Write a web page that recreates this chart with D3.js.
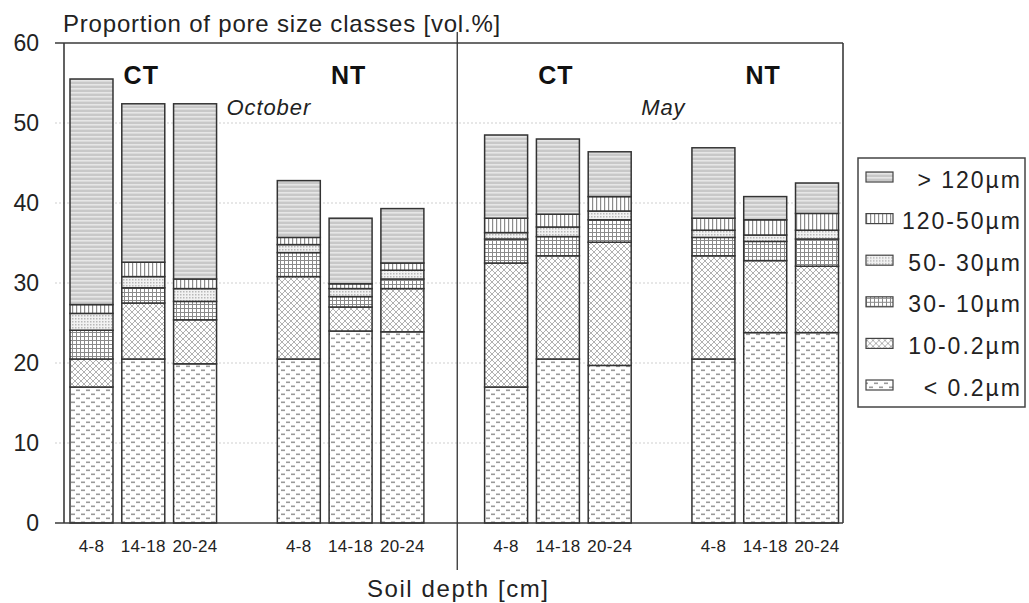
<!DOCTYPE html>
<html>
<head>
<meta charset="utf-8">
<script src="https://cdn.jsdelivr.net/npm/d3@7"></script>
<style>
  body { margin: 0; background: #fff; }
  svg { display: block; font-family: "Liberation Sans", Arial, Helvetica, sans-serif; }
</style>
</head>
<body>
<svg id="chart" width="1029" height="603"></svg>
<script>
// Treatment groups (tillage system) and sampling season
const tillage = ["CT", "NT", "CT", "NT"];
const seasons = ["October", "May"];
const depths = ["4-8", "14-18", "20-24"];
const yTicks = [0, 10, 20, 30, 40, 50, 60];

// Pore size classes, bottom of the stack first
const classes = ["< 0.2µm", "10-0.2µm", "30- 10µm", "50- 30µm", "120-50µm", "> 120µm"];

// vol.% per class; order: CT-Oct (4-8,14-18,20-24), NT-Oct, CT-May, NT-May
const poreLt02   = [17.0, 20.5, 19.9, 20.5, 24.0, 23.9, 17.0, 20.5, 19.7, 20.5, 23.8, 23.8];
const pore10_02  = [3.5, 7.0, 5.5, 10.3, 3.0, 5.4, 15.5, 12.9, 15.4, 12.9, 9.0, 8.3];
const pore30_10  = [3.6, 1.9, 2.3, 3.0, 1.3, 1.2, 3.0, 2.4, 2.8, 2.3, 2.4, 3.4];
const pore50_30  = [2.1, 1.4, 1.6, 1.0, 1.0, 1.1, 0.8, 1.2, 1.1, 0.9, 0.8, 1.1];
const pore120_50 = [1.1, 1.8, 1.2, 0.9, 0.6, 0.9, 1.8, 1.6, 1.8, 1.5, 1.9, 2.1];
const poreGt120  = [28.2, 19.8, 21.9, 7.1, 8.2, 6.8, 10.4, 9.4, 5.6, 8.8, 2.9, 3.8];

const classValues = [poreLt02, pore10_02, pore30_10, pore50_30, pore120_50, poreGt120];

const rows = d3.range(12).map(i => {
  const r = { group: Math.floor(i / 3), depth: depths[i % 3] };
  classes.forEach((c, k) => { r[c] = classValues[k][i]; });
  return r;
});

const svg = d3.select("#chart");
const plotLeft = 64, plotRight = 843, plotTop = 43, plotBottom = 523;

// ---------- fill patterns ----------
const defs = svg.append("defs");
const patIds = ["p-lt02", "p-10-02", "p-30-10", "p-50-30", "p-120-50", "p-gt120"];

// < 0.2 µm : staggered short dashes
let p = defs.append("pattern").attr("id", patIds[0]).attr("patternUnits", "userSpaceOnUse")
  .attr("width", 10).attr("height", 8);
p.append("rect").attr("width", 10).attr("height", 8).attr("fill", "#fff");
p.append("rect").attr("x", 1).attr("y", 1.5).attr("width", 4).attr("height", 1.6).attr("fill", "#9a9a9a");
p.append("rect").attr("x", 6).attr("y", 5.5).attr("width", 4).attr("height", 1.6).attr("fill", "#9a9a9a");

// 10-0.2 µm : diagonal lattice
p = defs.append("pattern").attr("id", patIds[1]).attr("patternUnits", "userSpaceOnUse")
  .attr("width", 6).attr("height", 6);
p.append("rect").attr("width", 6).attr("height", 6).attr("fill", "#fff");
p.append("path").attr("d", "M0,0L6,6M6,0L0,6").attr("stroke", "#a8a8a8").attr("stroke-width", 0.9);

// 30-10 µm : square grid
p = defs.append("pattern").attr("id", patIds[2]).attr("patternUnits", "userSpaceOnUse")
  .attr("width", 4).attr("height", 4);
p.append("rect").attr("width", 4).attr("height", 4).attr("fill", "#fff");
p.append("rect").attr("width", 4).attr("height", 1).attr("fill", "#8a8a8a");
p.append("rect").attr("width", 1).attr("height", 4).attr("fill", "#8a8a8a");

// 50-30 µm : fine dotted shading
p = defs.append("pattern").attr("id", patIds[3]).attr("patternUnits", "userSpaceOnUse")
  .attr("width", 3).attr("height", 3);
p.append("rect").attr("width", 3).attr("height", 3).attr("fill", "#f2f2f2");
p.append("rect").attr("width", 1.5).attr("height", 1.5).attr("fill", "#b8b8b8");

// 120-50 µm : vertical lines
p = defs.append("pattern").attr("id", patIds[4]).attr("patternUnits", "userSpaceOnUse")
  .attr("width", 4).attr("height", 4);
p.append("rect").attr("width", 4).attr("height", 4).attr("fill", "#fff");
p.append("rect").attr("width", 1.2).attr("height", 4).attr("fill", "#8c8c8c");

// > 120 µm : grey horizontal stripes
p = defs.append("pattern").attr("id", patIds[5]).attr("patternUnits", "userSpaceOnUse")
  .attr("width", 6).attr("height", 4);
p.append("rect").attr("width", 6).attr("height", 4).attr("fill", "#c8c8c8");
p.append("rect").attr("width", 6).attr("height", 1.6).attr("fill", "#e6e6e6");

// ---------- scales ----------
const y = d3.scaleLinear().domain([0, 60]).range([plotBottom, plotTop]);
const x0 = d3.scaleBand().domain(d3.range(4)).range([plotLeft + 6, plotRight - 4.5])
  .paddingInner(0.293).paddingOuter(0);
const x1 = d3.scaleBand().domain(depths).range([0, x0.bandwidth()]).paddingInner(0.17);

// ---------- grid lines ----------
svg.append("g").selectAll("line").data(yTicks.filter(t => t > 0 && t < 60)).join("line")
  .attr("x1", 55).attr("x2", plotRight)
  .attr("y1", d => y(d)).attr("y2", d => y(d))
  .attr("stroke", "#cfcfcf").attr("stroke-width", 1).attr("stroke-dasharray", "2,2");

// ---------- y axis labels ----------
const yAxis = d3.axisLeft(y).tickValues(yTicks).tickSize(0).tickPadding(16);
const gy = svg.append("g").attr("transform", `translate(55,0)`).call(yAxis);
gy.select(".domain").remove();
gy.selectAll("text").attr("font-size", 23).attr("fill", "#222")
  .attr("font-family", "'Liberation Sans', Arial, sans-serif");

// ---------- bars ----------
const stacked = d3.stack().keys(classes)(rows);
svg.append("g").selectAll("g").data(stacked).join("g")
  .attr("fill", (s, k) => `url(#${patIds[k]})`)
  .selectAll("rect").data(s => s).join("rect")
  .attr("x", d => x0(d.data.group) + x1(d.data.depth))
  .attr("width", x1.bandwidth())
  .attr("y", d => y(d[1]))
  .attr("height", d => y(d[0]) - y(d[1]))
  .attr("stroke", "#333").attr("stroke-width", 1.5);

// ---------- frame ----------
const frame = svg.append("g").attr("stroke", "#3a3a3a").attr("stroke-width", 1.6);
frame.append("line").attr("x1", 55).attr("x2", plotRight).attr("y1", plotTop).attr("y2", plotTop);
frame.append("line").attr("x1", 55).attr("x2", plotRight).attr("y1", plotBottom).attr("y2", plotBottom);
frame.append("line").attr("x1", plotLeft).attr("x2", plotLeft).attr("y1", plotTop).attr("y2", plotBottom);
frame.append("line").attr("x1", plotRight).attr("x2", plotRight).attr("y1", plotTop).attr("y2", plotBottom);

// season divider
const divX = (x0(1) + x0.bandwidth() + x0(2)) / 2 + 3;
svg.append("line").attr("x1", divX).attr("x2", divX).attr("y1", 32).attr("y2", 570)
  .attr("stroke", "#333").attr("stroke-width", 1.3);

// ---------- x labels ----------
svg.append("g").selectAll("text").data(rows).join("text")
  .attr("x", d => x0(d.group) + x1(d.depth) + x1.bandwidth() / 2)
  .attr("y", 552)
  .attr("text-anchor", "middle").attr("font-size", 17).attr("letter-spacing", 0.3).attr("fill", "#222")
  .text(d => d.depth);

// tillage labels
svg.append("g").selectAll("text").data(tillage).join("text")
  .attr("x", (d, i) => x0(i) + x0.bandwidth() / 2 - 2)
  .attr("y", 84)
  .attr("text-anchor", "middle").attr("font-size", 25).attr("font-weight", "bold")
  .attr("letter-spacing", 1).attr("fill", "#111")
  .text(d => d);

// season labels
svg.append("g").selectAll("text").data(seasons).join("text")
  .attr("x", (d, i) => x0(i * 2) + x0.bandwidth() + 10)
  .attr("y", 115)
  .attr("font-size", 22).attr("font-style", "italic").attr("letter-spacing", 0.9).attr("fill", "#222")
  .text(d => d);

// titles
svg.append("text").attr("x", 63).attr("y", 32).attr("font-size", 24).attr("letter-spacing", 0.8)
  .attr("fill", "#222").text("Proportion of pore size classes [vol.%]");
svg.append("text").attr("x", divX + 1).attr("y", 597).attr("text-anchor", "middle")
  .attr("font-size", 24).attr("letter-spacing", 1.6).attr("fill", "#222").text("Soil depth [cm]");

// ---------- legend ----------
const legend = svg.append("g").attr("transform", "translate(858,158)");
legend.append("rect").attr("width", 167).attr("height", 249)
  .attr("fill", "#fff").attr("stroke", "#444").attr("stroke-width", 1.5);
const legendItems = classes.map((c, k) => ({ label: c, pat: patIds[k] })).reverse();
const li = legend.selectAll("g.item").data(legendItems).join("g").attr("class", "item")
  .attr("transform", (d, i) => `translate(0,${19 + i * 41.6})`);
li.append("rect").attr("x", 8).attr("y", -5).attr("width", 27).attr("height", 10)
  .attr("fill", d => `url(#${d.pat})`).attr("stroke", "#444").attr("stroke-width", 1.2);
li.append("text").attr("x", 164).attr("y", 10.5).attr("text-anchor", "end")
  .attr("font-size", 23).attr("letter-spacing", 2).attr("fill", "#222").text(d => d.label);
</script>
</body>
</html>
